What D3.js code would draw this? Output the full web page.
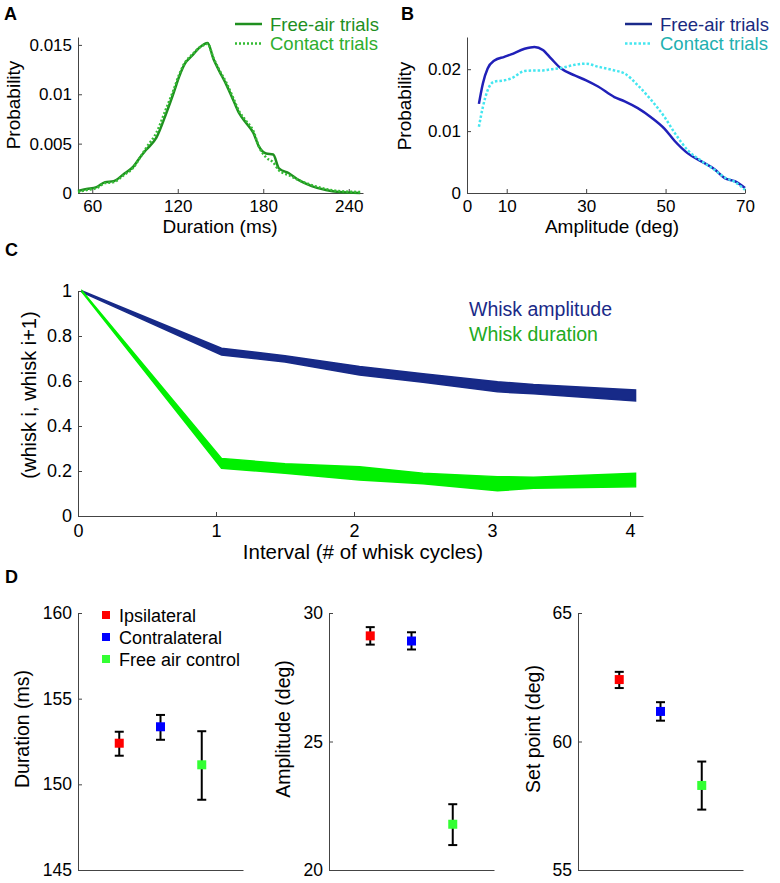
<!DOCTYPE html>
<html>
<head>
<meta charset="utf-8">
<script src="https://cdn.jsdelivr.net/npm/d3@7"></script>
<style>
    body { margin: 0; background: #fff; }
    svg { font-family: "Liberation Sans", Arial, sans-serif; }
</style>
</head>
<body>
<svg id="figure" width="780" height="883"></svg>
<script>
// Panel A - whisk duration distributions
const durationX = [50, 56, 63, 69, 75, 82, 89, 94, 98, 105, 112, 117, 121, 125, 130, 135, 141, 145, 149, 154, 159, 163, 168, 173, 177, 182, 187, 191, 198, 205, 214, 224, 233, 248];
const durationFree = [0.0002, 0.0004, 0.0006, 0.0011, 0.0012, 0.0019, 0.0027, 0.0037, 0.0044, 0.0056, 0.0081, 0.0101, 0.0118, 0.0131, 0.0139, 0.0147, 0.0152, 0.0136, 0.0124, 0.011, 0.0094, 0.0081, 0.0071, 0.0061, 0.0047, 0.004, 0.0039, 0.0025, 0.002, 0.0013, 0.0007, 0.0003, 0.0001, 0];
const durationContact = [0.0001, 0.0003, 0.0005, 0.001, 0.0011, 0.0018, 0.0026, 0.0037, 0.0046, 0.0061, 0.0086, 0.0104, 0.012, 0.0132, 0.014, 0.0147, 0.0151, 0.0137, 0.0125, 0.0112, 0.0096, 0.0083, 0.0073, 0.0063, 0.0047, 0.0036, 0.0031, 0.0023, 0.0018, 0.0013, 0.0008, 0.0004, 0.0002, 0.0001];
const durationTicks = [60, 120, 180, 240];
const durationProbTicks = [0, 0.005, 0.01, 0.015];
const durationProbLabels = ['0', '0.005', '0.01', '0.015'];

// Panel B - whisk amplitude distributions
const amplitudeX = [3, 4, 5.2, 6.9, 9.4, 11.1, 14.5, 17, 19.1, 21.2, 23.7, 27.1, 30, 33, 37.1, 39.7, 43, 46.4, 49.7, 52.3, 55.6, 59, 62.4, 64.9, 67.4, 70];
const amplitudeFree = [0.0144, 0.0177, 0.0201, 0.0214, 0.022, 0.0224, 0.0233, 0.0236, 0.0231, 0.0217, 0.0201, 0.019, 0.0182, 0.0172, 0.0155, 0.0148, 0.0137, 0.0122, 0.0104, 0.0084, 0.0064, 0.0051, 0.0038, 0.0024, 0.0019, 0.0008];
const amplitudeContact = [0.0107, 0.0139, 0.0166, 0.018, 0.0182, 0.0185, 0.0197, 0.0198, 0.0198, 0.02, 0.0202, 0.0207, 0.0209, 0.0204, 0.0198, 0.0193, 0.0174, 0.015, 0.0123, 0.0097, 0.0069, 0.0052, 0.0037, 0.0025, 0.0018, 0.0005];
const amplitudeTicks = [0, 10, 30, 50, 70];
const amplitudeProbTicks = [0, 0.01, 0.02];
const amplitudeProbLabels = ['0', '0.01', '0.02'];

// Panel C - correlation bands
const intervalX = [0.03, 1.04, 1.5, 2.04, 2.5, 3.04, 3.3, 4.04];
const ampUpper = [1.0, 0.746, 0.712, 0.664, 0.632, 0.597, 0.584, 0.56];
const ampLower = [0.994, 0.716, 0.684, 0.627, 0.594, 0.552, 0.543, 0.511];
const durUpper = [1.0, 0.256, 0.232, 0.219, 0.19, 0.175, 0.172, 0.19];
const durLower = [0.994, 0.212, 0.19, 0.16, 0.143, 0.112, 0.123, 0.13];
const intervalTicks = [0, 1, 2, 3, 4];
const corrTicks = [0, 0.2, 0.4, 0.6, 0.8, 1];

// Panel D - means with error bars
const groups = ['Ipsilateral', 'Contralateral', 'Free air control'];
const groupColors = ['#ff0000', '#0000ff', '#33ff33'];
const durMean = [152.4, 153.36, 151.14];
const durLow = [151.67, 152.6, 149.1];
const durHigh = [153.07, 154.05, 153.1];
const ampMean = [29.11, 28.91, 21.78];
const ampLow = [28.77, 28.58, 20.97];
const ampHigh = [29.45, 29.25, 22.56];
const setMean = [62.41, 61.17, 58.29];
const setLow = [62.08, 60.81, 57.35];
const setHigh = [62.71, 61.53, 59.22];

const svg = d3.select('#figure');
const axisColor = '#444';

// Function to style an axis group after d3 has drawn it
function styleAxis(g, fontSize) {
    g.attr('font-family', null).attr('font-size', fontSize);
    g.selectAll('path, line').attr('stroke', axisColor).attr('stroke-width', 1);
    g.selectAll('text').attr('fill', '#000');
}

// Function to add a rotated y label
function yLabel(x, y, text, size) {
    svg.append('text')
        .attr('transform', `translate(${x},${y}) rotate(-90)`)
        .attr('text-anchor', 'middle')
        .attr('font-size', size)
        .text(text);
}

function panelLetter(x, y, letter) {
    svg.append('text').attr('x', x).attr('y', y)
        .attr('font-size', 18).attr('font-weight', 'bold').text(letter);
}

// Function to draw a two-line legend with line samples
function lineLegend(x, y, items) {
    items.forEach((item, i) => {
        const yy = y + i * 19.5;
        svg.append('line')
            .attr('x1', x).attr('x2', x + 27).attr('y1', yy).attr('y2', yy)
            .attr('stroke', item.stroke).attr('stroke-width', 2.5)
            .attr('stroke-dasharray', item.dash);
        svg.append('text')
            .attr('x', x + 35).attr('y', yy + 6.5)
            .attr('font-size', 18.5).attr('fill', item.text)
            .text(item.label);
    });
}

// Panel A
function drawPanelA() {
    const x = d3.scaleLinear().domain([50, 250]).range([78, 363]);
    const y = d3.scaleLinear().domain([0, 0.0158]).range([193, 37]);

    svg.append('g').attr('transform', 'translate(0,193)')
        .call(d3.axisBottom(x).tickValues(durationTicks).tickSize(-4).tickSizeOuter(0).tickPadding(7))
        .call(g => styleAxis(g, 17));
    svg.append('g').attr('transform', 'translate(78,0)')
        .call(d3.axisLeft(y).tickValues(durationProbTicks).tickFormat((d, i) => durationProbLabels[i])
            .tickSize(-4).tickSizeOuter(0).tickPadding(6))
        .call(g => styleAxis(g, 17));

    const line = d3.line().x((d, i) => x(durationX[i])).y(d => y(d)).curve(d3.curveMonotoneX);
    svg.append('path').datum(durationFree).attr('d', line)
        .attr('fill', 'none').attr('stroke', '#1f8f1f').attr('stroke-width', 2.5);
    svg.append('path').datum(durationContact).attr('d', line)
        .attr('fill', 'none').attr('stroke', '#33bb33').attr('stroke-width', 2.5).attr('stroke-dasharray', '2,2');

    svg.append('text').attr('x', 220).attr('y', 233).attr('text-anchor', 'middle')
        .attr('font-size', 19).text('Duration (ms)');
    yLabel(20, 105, 'Probability', 19);
    lineLegend(235, 24, [
        { label: 'Free-air trials', stroke: '#1f8f1f', text: '#1f8f1f', dash: null },
        { label: 'Contact trials', stroke: '#33bb33', text: '#2eae2e', dash: '2,2' }
    ]);
    panelLetter(4, 20, 'A');
}

// Panel B
function drawPanelB() {
    const x = d3.scaleLinear().domain([0, 70]).range([467, 745]);
    const y = d3.scaleLinear().domain([0, 0.0252]).range([193, 37]);

    svg.append('g').attr('transform', 'translate(0,193)')
        .call(d3.axisBottom(x).tickValues(amplitudeTicks).tickSize(-4).tickSizeOuter(0).tickPadding(7))
        .call(g => styleAxis(g, 17));
    svg.append('g').attr('transform', 'translate(467,0)')
        .call(d3.axisLeft(y).tickValues(amplitudeProbTicks).tickFormat((d, i) => amplitudeProbLabels[i])
            .tickSize(-4).tickSizeOuter(0).tickPadding(6))
        .call(g => styleAxis(g, 17));

    const line = d3.line().x((d, i) => x(amplitudeX[i])).y(d => y(d)).curve(d3.curveMonotoneX);
    svg.append('path').datum(amplitudeFree).attr('d', line)
        .attr('fill', 'none').attr('stroke', '#2020b8').attr('stroke-width', 2.5);
    svg.append('path').datum(amplitudeContact).attr('d', line)
        .attr('fill', 'none').attr('stroke', '#44e6f0').attr('stroke-width', 2.5).attr('stroke-dasharray', '2.5,2');

    svg.append('text').attr('x', 612).attr('y', 233).attr('text-anchor', 'middle')
        .attr('font-size', 19).text('Amplitude (deg)');
    yLabel(411, 106, 'Probability', 19);
    lineLegend(625, 24, [
        { label: 'Free-air trials', stroke: '#1a2a8a', text: '#1a2a80', dash: null },
        { label: 'Contact trials', stroke: '#44e6f0', text: '#22b0b0', dash: '2.5,2' }
    ]);
    panelLetter(401, 20, 'B');
}

// Panel C
function drawPanelC() {
    const x = d3.scaleLinear().domain([0, 4.094]).range([78, 643]);
    const y = d3.scaleLinear().domain([0, 1]).range([516, 291]);

    svg.append('g').attr('transform', 'translate(0,516)')
        .call(d3.axisBottom(x).tickValues(intervalTicks).tickFormat(d3.format('d'))
            .tickSize(-4).tickSizeOuter(0).tickPadding(8))
        .call(g => styleAxis(g, 18));
    svg.append('g').attr('transform', 'translate(78,0)')
        .call(d3.axisLeft(y).tickValues(corrTicks).tickFormat(d3.format('~g'))
            .tickSize(-4).tickSizeOuter(0).tickPadding(6))
        .call(g => styleAxis(g, 18));

    const band = (upper, lower) => d3.area()
        .x((d, i) => x(intervalX[i]))
        .y0((d, i) => y(lower[i]))
        .y1((d, i) => y(upper[i]));
    svg.append('path').datum(ampUpper).attr('d', band(ampUpper, ampLower))
        .attr('fill', '#172a88').attr('stroke', '#172a88').attr('stroke-width', 1.5);
    svg.append('path').datum(durUpper).attr('d', band(durUpper, durLower))
        .attr('fill', '#00f000').attr('stroke', '#00f000').attr('stroke-width', 1.5);

    svg.append('text').attr('x', 469).attr('y', 316).attr('font-size', 19.5)
        .attr('fill', '#1a2a88').text('Whisk amplitude');
    svg.append('text').attr('x', 469).attr('y', 341).attr('font-size', 19.5)
        .attr('fill', '#22aa22').text('Whisk duration');

    svg.append('text').attr('x', 363).attr('y', 559).attr('text-anchor', 'middle')
        .attr('font-size', 20.5).text('Interval (# of whisk cycles)');
    yLabel(36, 395, '(whisk i, whisk i+1)', 20);
    panelLetter(5, 256, 'C');
}

// Function to draw one of the three error-bar plots in D
function drawErrorPanel(left, domain, ticks, mean, low, high, label, labelX) {
    const x = d3.scaleLinear().domain([0, 4]).range([left, left + 165]);
    const y = d3.scaleLinear().domain(domain).range([870, 613]);

    svg.append('g').attr('transform', 'translate(0,870)')
        .call(d3.axisBottom(x).tickValues([]).tickSizeOuter(0))
        .call(g => styleAxis(g, 17.5));
    svg.append('g').attr('transform', `translate(${left},0)`)
        .call(d3.axisLeft(y).tickValues(ticks).tickSize(-4).tickSizeOuter(0).tickPadding(6))
        .call(g => styleAxis(g, 17.5));

    const pts = svg.append('g');
    mean.forEach((m, i) => {
        const cx = x(i + 1);
        pts.append('line').attr('x1', cx).attr('x2', cx)
            .attr('y1', y(low[i])).attr('y2', y(high[i]))
            .attr('stroke', '#000').attr('stroke-width', 2);
        [low[i], high[i]].forEach(v => {
            pts.append('line').attr('x1', cx - 4.5).attr('x2', cx + 4.5)
                .attr('y1', y(v)).attr('y2', y(v))
                .attr('stroke', '#000').attr('stroke-width', 2);
        });
        pts.append('rect').attr('x', cx - 4.5).attr('y', y(m) - 4.5)
            .attr('width', 9).attr('height', 9).attr('fill', groupColors[i]);
    });

    yLabel(labelX, 729, label, 19.5);
}

function drawPanelD() {
    drawErrorPanel(78, [145, 160], [145, 150, 155, 160], durMean, durLow, durHigh, 'Duration (ms)', 29);
    drawErrorPanel(329, [20, 30], [20, 25, 30], ampMean, ampLow, ampHigh, 'Amplitude (deg)', 290);
    drawErrorPanel(578, [55, 65], [55, 60, 65], setMean, setLow, setHigh, 'Set point (deg)', 540);

    // legend for D
    groups.forEach((name, i) => {
        const yy = 615 + i * 22;
        svg.append('rect').attr('x', 102).attr('y', yy - 4).attr('width', 8).attr('height', 8)
            .attr('fill', groupColors[i]);
        svg.append('text').attr('x', 119).attr('y', yy + 6.5).attr('font-size', 18).text(name);
    });
    panelLetter(5, 583, 'D');
}

drawPanelA();
drawPanelB();
drawPanelC();
drawPanelD();
</script>
</body>
</html>
